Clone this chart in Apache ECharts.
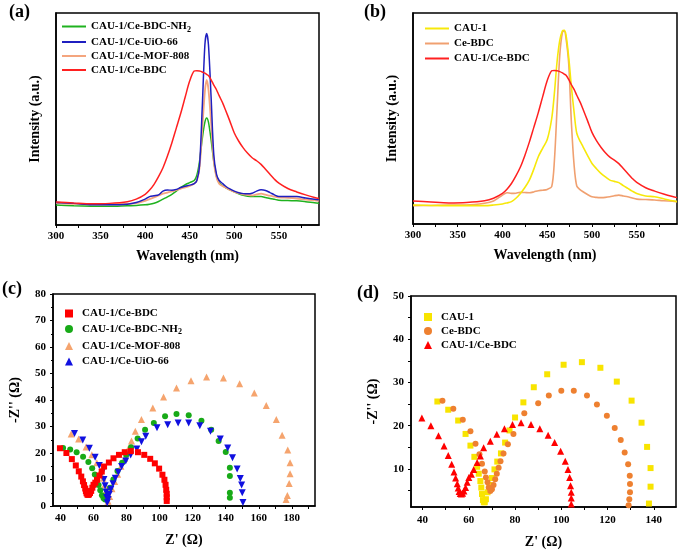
<!DOCTYPE html>
<html><head><meta charset="utf-8">
<script src="https://cdn.jsdelivr.net/npm/echarts@6/dist/echarts.min.js"></script>
<style>html,body{margin:0;padding:0;background:#fff}#c{width:680px;height:550px}</style>
</head><body><div id="c"></div>
<script>
// ---------- Photoluminescence spectra (a), (b) ----------
const wavelength = [300,320,340,360,380,390,400,405,410,415, 420,425,430,435,440,445,450,455,458,461, 464,467,469,471,474,477,480,483,487,490, 495,500,505,510,515,520,525,530,535,540, 545,550,560,570,580,590,595];
const plCauCeBdc = [10.9,10.4,10.0,10.2,11.0,12.2,14.5,16.5,19.2,22.8, 27.0,32.5,38.8,45.8,52.8,60.5,68.0,72.6,72.8,72.6, 72.2,71.6,71.0,70.5,68.5,66.0,63.8,61.0,57.5,54.4, 49.0,43.4,39.5,36.4,33.8,31.7,30.3,28.6,26.3,23.9, 21.6,19.7,17.2,15.6,14.2,13.0,12.5];
const plUio66 = [10.6,10.2,9.6,9.5,9.8,10.6,12.2,13.4,13.8,14.2, 16.0,16.5,16.4,16.8,17.7,18.3,18.8,19.5,21.0,28.0, 55.0,85.0,90.3,85.0,60.0,33.0,24.0,21.0,19.5,18.4, 17.0,16.0,15.2,14.8,14.7,15.0,16.0,16.6,16.3,15.3, 14.2,13.4,13.4,13.4,12.7,12.1,11.9];
const plMof808 = [10.3,10.0,9.8,9.7,9.9,10.3,11.4,12.2,13.0,13.9, 14.8,15.3,15.8,16.5,17.2,17.8,18.4,19.5,21.0,27.0, 45.0,63.0,68.4,64.0,48.0,30.0,22.5,19.5,18.3,17.7, 16.5,15.6,15.0,14.5,14.2,14.0,14.4,14.8,14.3,13.8, 13.4,13.0,12.8,12.5,12.0,11.6,11.4];
const plBdcNh2 = [9.4,9.1,8.9,8.8,9.1,9.2,9.5,9.8,10.3,11.1, 12.2,13.3,14.5,16.0,17.7,19.0,20.0,21.0,23.5,30.0, 40.5,48.5,50.5,48.5,40.0,30.0,23.0,20.0,18.5,17.7, 16.6,15.6,14.7,14.0,13.6,13.4,13.4,13.4,13.0,12.5, 12.1,11.7,11.5,11.4,11.0,10.5,10.3];
const plCau1 = [9.0,8.8,8.7,8.7,8.7,9.0,9.5,10.0,10.6,12.2, 14.5,17.3,20.8,26.0,31.9,36.0,40.0,50.0,62.0,77.0, 87.0,91.5,91.8,89.5,79.0,65.0,53.0,43.0,39.0,36.6, 32.5,28.7,26.2,24.0,22.3,20.8,20.2,19.6,18.2,16.9, 15.6,14.5,13.3,12.9,12.0,11.0,10.6];
const plCeBdc = [8.7,8.8,9.0,9.0,9.8,10.9,13.7,14.8,14.5,14.6, 15.0,14.9,14.8,15.2,15.8,16.0,16.4,17.7,30.0,55.0, 80.0,91.0,91.5,88.0,76.0,48.0,28.0,18.0,16.2,15.3, 14.0,12.9,12.6,12.5,12.6,12.9,13.4,13.7,13.3,12.9, 12.3,11.8,11.6,11.4,11.0,10.8,10.6];
const wlTicks = [300,350,400,450,500,550];
const wlMinorTicks = [300,325,350,375,400,425,450,475,500,525,550,575];

// ---------- Nyquist plots (c), (d) ----------
const reCauCeBdc = [39.7,43.6,46.9,49.3,51.1,52.6,53.6,54.3,55.0,55.4, 55.8,56.3,56.8,57.3,57.9,58.6,59.3,60.0,61.1,62.1, 63.6,65.0,66.4,69.3,72.1,75.4,78.9,82.6,86.9,90.7, 94.3,97.1,99.7,101.7,102.9,103.6,104.0,104.3,104.3,104.3];
const imCauCeBdc = [21.8,20.0,17.7,15.3,13.1,11.1,9.3,7.9,6.6,5.6, 4.8,4.3,4.2,4.4,4.9,5.7,6.9,8.0,8.8,9.9, 11.5,13.0,14.9,16.4,18.0,19.3,20.3,20.7,20.3,19.3, 17.8,16.1,14.1,11.8,9.9,8.0,6.1,4.6,3.3,1.9];
const reBdcNh2 = [41.6,45.9,49.8,53.7,56.9,59.2,60.8,62.2,63.1,64.1, 65.1,66.1,67.0,68.0,70.0,72.0,74.5,77.3,79.8,82.7, 86.7,91.2,96.5,103.3,110.2,117.6,125.3,131.2,135.7,140.0, 142.5,142.5,142.5,142.5];
const imBdcNh2 = [21.9,21.3,20.3,18.6,16.6,14.2,11.9,9.8,7.9,5.9, 4.1,2.9,2.5,3.8,6.9,10.0,13.2,16.3,19.2,22.2, 25.5,28.8,31.3,33.9,34.7,34.2,32.2,28.8,24.5,20.4, 14.4,11.3,5.0,3.1];
const reMof808 = [46.5,51.0,55.5,59.0,62.0,64.3,65.8,66.8,67.6,68.2, 68.8,69.8,71.2,72.8,74.6,76.6,78.8,81.0,83.0,85.3, 89.0,95.9,102.4,110.2,119.0,128.4,138.6,148.4,157.3,164.5, 170.6,174.1,177.5,178.9,178.9,178.4,177.3,176.5];
const imMof808 = [27.2,25.3,22.3,19.3,16.3,13.3,10.5,8.0,5.7,3.6, 1.8,3.6,6.5,9.2,12.0,15.0,18.0,21.5,24.5,28.2, 32.6,37.0,41.1,44.5,47.3,48.7,48.3,46.1,42.6,37.9, 32.6,26.7,21.1,16.3,12.2,8.5,4.0,2.5];
const reUio66 = [48.5,53.5,57.5,61.0,63.5,65.2,66.3,67.0,67.6,68.0, 68.3,68.8,69.5,70.5,71.8,73.2,75.0,77.0,79.5,82.5, 86.2,89.0,91.6,98.4,104.9,111.2,117.6,124.3,130.8,136.7, 141.2,144.1,146.9,148.8,149.6,150.0,150.4];
const imUio66 = [27.4,24.9,21.8,18.4,15.3,12.6,10.0,7.6,5.3,3.2, 1.2,2.5,4.3,6.3,8.4,10.5,12.7,14.9,17.0,19.2, 21.5,24.2,26.3,29.5,30.7,31.3,31.3,30.3,28.2,25.3, 21.9,18.2,14.0,10.4,7.9,5.0,1.3];
const reCau1 = [46.4,51.1,55.4,58.6,60.7,62.4,63.6,64.3,65.0,65.4, 65.7,66.1,66.5,66.9,67.4,68.1,69.0,70.0,71.1,72.3, 73.9,75.7,77.6,80.0,83.6,88.1,93.9,101.0,108.9,116.9, 124.0,130.4,134.7,137.1,138.6,138.6,137.9];
const imCau1 = [25.6,23.7,21.2,18.1,15.4,12.8,10.5,8.9,7.2,5.7, 4.2,2.8,2.3,2.3,3.0,4.6,6.3,7.9,9.9,11.7, 13.6,16.1,18.9,21.9,25.4,28.9,31.9,34.1,34.7,33.4, 30.2,25.8,20.7,15.1,10.2,5.9,2.0];
const reCeBdc = [48.6,53.3,57.4,60.7,62.9,64.6,65.7,66.9,67.4,68.1, 68.6,69.3,70.0,70.7,71.4,72.1,72.9,73.7,75.0,76.9, 79.3,84.0,90.0,94.6,100.0,105.4,111.1,115.4,119.7,123.1, 125.7,127.4,128.9,129.6,129.7,129.7,129.4,129.1];
const imCeBdc = [25.8,23.9,21.4,18.7,15.8,13.4,11.2,9.4,8.0,6.9, 5.7,4.9,5.3,6.3,7.6,8.9,10.3,11.8,13.6,15.7, 18.1,22.9,25.2,27.0,28.1,28.1,27.0,24.9,22.3,19.5, 16.7,13.8,11.1,8.4,6.5,4.6,3.0,1.6];
const cXLabels = [40,60,80,100,120,140,160,180];
const cXTicks = [40,50,60,70,80,90,100,110,120,130,140,150,160,170,180,190];
const dXLabels = [40,60,80,100,120,140];
const dXTicks = [40,50,60,70,80,90,100,110,120,130,140];
const dYLabels = [10,20,30,40,50];
const dYTicks = [5,10,15,20,25,30,35,40,45,50];

const FONT = 'Liberation Serif';
const pairs = (xs, ys) => xs.map((x, i) => [x, ys[i]]);
const lbl = {color:'#000', fontFamily:FONT, fontWeight:'bold', fontSize:11};
const nameStyle = {color:'#000', fontFamily:FONT, fontWeight:'bold', fontSize:14};
const axLine = {show:true, lineStyle:{color:'#000', width:1.5}};
const tickStyle = {lineStyle:{color:'#000', width:1}};

function xAx(grid, extra){
  return Object.assign({type:'value', gridIndex:grid, nameLocation:'middle', nameTextStyle:nameStyle,
    axisLine:axLine, splitLine:{show:false},
    axisTick:Object.assign({length:3}, tickStyle), axisLabel:Object.assign({margin:6}, lbl)}, extra);
}
function yAx(grid, extra){
  return Object.assign({type:'value', gridIndex:grid, nameLocation:'middle', nameRotate:90, nameTextStyle:nameStyle,
    axisLine:axLine, splitLine:{show:false},
    axisTick:Object.assign({length:3}, tickStyle), axisLabel:Object.assign({margin:7}, lbl)}, extra);
}

const legendText = {color:'#000', fontFamily:FONT, fontWeight:'bold', fontSize:11,
  rich:{s:{fontSize:8, fontFamily:FONT, fontWeight:'bold', color:'#000', padding:[6,0,0,0]}}};
const legendTextPad = Object.assign({}, legendText, {padding:[0,0,0,4]});
const fmt = n => { const t = n.split('|')[1]; return t === 'CAU-1/Ce-BDC-NH2' ? 'CAU-1/Ce-BDC-NH{s|2}' : t; };

function lineS(name, grid, ys, color, w){
  return {type:'line', name:name, xAxisIndex:grid, yAxisIndex:grid, data:pairs(wavelength, ys),
    symbol:'none', smooth:0.3, color:color, lineStyle:{color:color, width:w||1.5}};
}
function scat(name, grid, xs, ys, color, symbol, size, rot){
  return {type:'scatter', name:name, xAxisIndex:grid, yAxisIndex:grid, data:pairs(xs, ys),
    symbol:symbol, symbolSize:size, symbolRotate:rot||0, color:color, itemStyle:{color:color, opacity:1}};
}

const chart = echarts.init(document.getElementById('c'), null, {renderer:'canvas'});
chart.setOption({
  animation:false,
  backgroundColor:'#fff',
  grid:[
    {left:56, top:13, width:263, height:212, show:true, borderColor:'#000', borderWidth:1.5},
    {left:413, top:13, width:264, height:211, show:true, borderColor:'#000', borderWidth:1.5},
    {left:53, top:294, width:262, height:212, show:true, borderColor:'#000', borderWidth:1.5},
    {left:411, top:296, width:265, height:211, show:true, borderColor:'#000', borderWidth:1.5}
  ],
  xAxis:[
    xAx(0, {min:300, max:595, name:'Wavelength (nm)', nameGap:24,
      axisLabel:Object.assign({margin:6, customValues:wlTicks}, lbl),
      axisTick:Object.assign({length:3, customValues:wlMinorTicks}, tickStyle)}),
    xAx(1, {min:300, max:595, name:'Wavelength (nm)', nameGap:24,
      axisLabel:Object.assign({margin:6, customValues:wlTicks}, lbl),
      axisTick:Object.assign({length:3, customValues:wlMinorTicks}, tickStyle)}),
    xAx(2, {min:35.5, max:194, name:"Z' (Ω)", nameGap:27,
      axisLabel:Object.assign({margin:7, customValues:cXLabels}, lbl),
      axisTick:Object.assign({length:3, customValues:cXTicks}, tickStyle)}),
    xAx(3, {min:35, max:149.6, name:"Z' (Ω)", nameGap:28,
      axisLabel:Object.assign({margin:8, customValues:dXLabels}, lbl),
      axisTick:Object.assign({length:3, customValues:dXTicks}, tickStyle)})
  ],
  yAxis:[
    yAx(0, {min:0, max:100, name:'Intensity (a.u.)', nameGap:14, axisLabel:{show:false}, axisTick:{show:false}}),
    yAx(1, {min:0, max:100, name:'Intensity (a.u.)', nameGap:14, axisLabel:{show:false}, axisTick:{show:false}}),
    yAx(2, {min:0, max:80, interval:10, name:"-Z'' (Ω)", nameGap:31, minorTick:{show:true, splitNumber:2, length:2, lineStyle:{color:'#000'}}}),
    yAx(3, {min:1.2, max:50, name:"-Z'' (Ω)", nameGap:31,
      axisLabel:Object.assign({margin:7, customValues:dYLabels}, lbl),
      axisTick:Object.assign({length:3, customValues:dYTicks}, tickStyle)})
  ],
  legend:[
    {data:['a|CAU-1/Ce-BDC-NH2','a|CAU-1/Ce-UiO-66','a|CAU-1/Ce-MOF-808','a|CAU-1/Ce-BDC'], orient:'vertical', left:62, top:21, padding:0,
      icon:'rect', itemWidth:24, itemHeight:2, itemGap:3, textStyle:legendText, formatter:fmt, selectedMode:false},
    {data:['b|CAU-1','b|Ce-BDC','b|CAU-1/Ce-BDC'], orient:'vertical', left:425, top:23, padding:0,
      icon:'rect', itemWidth:24, itemHeight:2, itemGap:4, textStyle:legendText, formatter:fmt, selectedMode:false},
    {data:['c|CAU-1/Ce-BDC','c|CAU-1/Ce-BDC-NH2','c|CAU-1/Ce-MOF-808','c|CAU-1/Ce-UiO-66'], orient:'vertical', left:65, top:308, padding:0,
      itemWidth:8, itemHeight:8, itemGap:4.5, textStyle:legendTextPad, formatter:fmt, selectedMode:false},
    {data:['d|CAU-1','d|Ce-BDC','d|CAU-1/Ce-BDC'], orient:'vertical', left:424, top:311.5, padding:0,
      itemWidth:8, itemHeight:8, itemGap:3, textStyle:legendTextPad, formatter:fmt, selectedMode:false}
  ],
  graphic:[
    {type:'text', left:9, top:3, style:{text:'(a)', font:'bold 18px Liberation Serif', fill:'#000'}},
    {type:'text', left:364, top:3, style:{text:'(b)', font:'bold 18px Liberation Serif', fill:'#000'}},
    {type:'text', left:2, top:280, style:{text:'(c)', font:'bold 18px Liberation Serif', fill:'#000'}},
    {type:'text', left:357, top:284, style:{text:'(d)', font:'bold 18px Liberation Serif', fill:'#000'}}
  ],
  series:[
    lineS('a|CAU-1/Ce-BDC-NH2', 0, plBdcNh2, '#1fb21f'),
    lineS('a|CAU-1/Ce-MOF-808', 0, plMof808, '#f4a57e', 1.8),
    lineS('a|CAU-1/Ce-UiO-66', 0, plUio66, '#1f1fc0'),
    lineS('a|CAU-1/Ce-BDC', 0, plCauCeBdc, '#ff2020'),
    lineS('b|Ce-BDC', 1, plCeBdc, '#f0a070', 1.6),
    lineS('b|CAU-1', 1, plCau1, '#f7e80a', 1.6),
    lineS('b|CAU-1/Ce-BDC', 1, plCauCeBdc, '#ff2020'),
    scat('c|CAU-1/Ce-MOF-808', 2, reMof808, imMof808, '#f5a46e', 'triangle', 7),
    scat('c|CAU-1/Ce-BDC-NH2', 2, reBdcNh2, imBdcNh2, '#18aa18', 'circle', 6),
    scat('c|CAU-1/Ce-UiO-66', 2, reUio66, imUio66, '#1010e0', 'triangle', 7, 180),
    scat('c|CAU-1/Ce-BDC', 2, reCauCeBdc, imCauCeBdc, '#ff0000', 'rect', 6),
    scat('d|CAU-1', 3, reCau1, imCau1, '#f8e400', 'rect', 6),
    scat('d|Ce-BDC', 3, reCeBdc, imCeBdc, '#ee8030', 'circle', 6),
    scat('d|CAU-1/Ce-BDC', 3, reCauCeBdc, imCauCeBdc, '#ff0000', 'triangle', 7)
  ]
});
</script></body></html>
